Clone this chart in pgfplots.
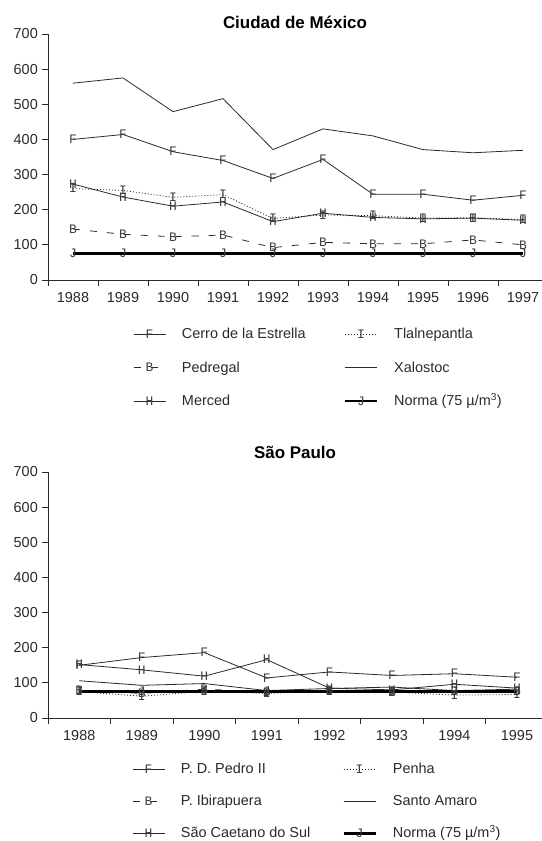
\documentclass[border=0pt]{standalone}
\usepackage{fontspec}
\setmainfont{Liberation Sans}
\setmonofont{Liberation Mono}
\usepackage{pgfplots}
\pgfplotsset{compat=1.18}
\definecolor{ln}{HTML}{2A2A2A}
\definecolor{mk}{HTML}{3C3C3C}

\pgfplotsset{
 mystyle/.style={
  scale only axis, width=494bp, height=246bp,
  axis x line=bottom, axis y line=left,
  axis line style={-, ln, line width=0.8bp},
  ymin=0, ymax=700, ytick={0,100,...,700},
  tick align=outside, major tick length=6bp,
  tick style={ln, line width=0.8bp},
  ticklabel style={font=\fontsize{14.5}{17}\selectfont, text=ln},
  /pgf/number format/assume math mode=true,
  yticklabel style={anchor=east, inner sep=0pt, xshift=-4bp},
  xticklabels={},
  extra x tick style={major tick length=0pt, xticklabel style={anchor=north, inner sep=0pt, yshift=-12bp}},
  title style={font=\bfseries\fontsize{17}{20}\selectfont, at={(0.5,1)}, anchor=base, yshift=8bp},
  legend columns=2,
  legend cell align=left,
  legend style={draw=none, fill=none, inner sep=0pt, anchor=north west,
    font=\fontsize{14.5}{17}\selectfont, text=ln,
    row sep=19.5bp,
    nodes={inner sep=0pt, text height=11bp, text depth=3bp},
    /tikz/every odd column/.append style={column sep=16bp},
    /tikz/every even column/.append style={column sep=38bp}},
  legend image code/.code={\draw[mark repeat=2,mark phase=2,##1] plot coordinates {(0bp,0.5bp) (16bp,0.5bp) (32bp,0.5bp)};},
  text mark as node=true,
  text mark style={font=\ttfamily\fontsize{13}{13}\selectfont, text=mk, inner sep=0pt, anchor=center, text height=, text depth=},
 },
 sF/.style={ln, line width=0.8bp, mark=text, text mark=F, mark options={solid}},
 sI/.style={ln, line width=0.8bp, dash pattern=on 1bp off 2bp, mark=text, text mark=I, mark options={solid}},
 sB/.style={ln, line width=0.8bp, dash pattern=on 7bp off 10bp, mark=text, text mark=B, mark options={solid}},
 sP/.style={ln, line width=0.8bp, mark=none},
 sH/.style={ln, line width=0.8bp, mark=text, text mark=H, mark options={solid}},
 sJ/.style={black, line width=2.6bp, mark=text, text mark=J, mark options={solid}},
}

\begin{document}
\begin{tikzpicture}[x=1bp,y=1bp]
\useasboundingbox (0,0) rectangle (542,841);
\begin{axis}[mystyle, at={(48bp,561bp)}, anchor=south west,
  title={Ciudad de México},
  title style={yshift=-8bp},
  xmin=-0.5, xmax=9.38,
  xtick={-0.5,0.5,...,8.5},
  extra x ticks={0,1,2,3,4,5,6,7,8,9},
  extra x tick labels={1988,1989,1990,1991,1992,1993,1994,1995,1996,1997},
  legend style={at={(axis description cs:0.172,-0.193)}},
]
\addplot[sF] coordinates {(0,400) (1,414) (2,365) (3,340) (4,289) (5,343) (6,244) (7,244) (8,227) (9,241)};
\addlegendentry{Cerro de la Estrella}
\addplot[sI] coordinates {(0,260) (1,255) (2,235) (3,243) (4,175) (5,185) (6,183) (7,176) (8,177) (9,172)};
\addlegendentry{Tlalnepantla}
\addplot[sB] coordinates {(0,145) (1,130) (2,123) (3,128) (4,92) (5,107) (6,103) (7,103) (8,114) (9,100)};
\addlegendentry{Pedregal}
\addplot[sP] coordinates {(0,560) (1,575) (2,479) (3,516) (4,371) (5,430) (6,410) (7,371) (8,362) (9,369)};
\addlegendentry{Xalostoc}
\addplot[sH] coordinates {(0,273) (1,236) (2,210) (3,222) (4,166) (5,190) (6,178) (7,174) (8,176) (9,170)};
\addlegendentry{Merced}
\addplot[sJ] coordinates {(0,75) (1,75) (2,75) (3,75) (4,75) (5,75) (6,75) (7,75) (8,75) (9,75)};
\addlegendentry{Norma (75 µ/m\textsuperscript{3})}
\end{axis}

\begin{axis}[mystyle, at={(48bp,123bp)}, anchor=south west,
  title={São Paulo},
  xmin=-0.5, xmax=7.4,
  xtick={-0.5,0.5,...,6.5},
  extra x ticks={0,1,2,3,4,5,6,7},
  extra x tick labels={1988,1989,1990,1991,1992,1993,1994,1995},
  legend style={at={(axis description cs:0.170,-0.181)}, row sep=18bp,
    /tikz/every even column/.append style={column sep=32bp},
    /tikz/column 3/.append style={column sep=9bp}},
]
\addplot[sF] coordinates {(0,150) (1,172) (2,186) (3,114) (4,131) (5,121) (6,126) (7,116)};
\addlegendentry{P. D. Pedro II}
\addplot[sI] coordinates {(0,75) (1,62) (2,76) (3,70) (4,77) (5,74) (6,65) (7,67)};
\addlegendentry{Penha}
\addplot[sB] coordinates {(0,78) (1,70) (2,82) (3,74) (4,78) (5,73) (6,75) (7,76)};
\addlegendentry{P. Ibirapuera}
\addplot[sP] coordinates {(0,106) (1,93) (2,98) (3,78) (4,84) (5,88) (6,78) (7,82)};
\addlegendentry{Santo Amaro}
\addplot[sH] coordinates {(0,152) (1,137) (2,119) (3,166) (4,85) (5,80) (6,96) (7,85)};
\addlegendentry{São Caetano do Sul}
\addplot[sJ] coordinates {(0,75) (1,75) (2,75) (3,75) (4,75) (5,75) (6,75) (7,75)};
\addlegendentry{Norma (75 µ/m\textsuperscript{3})}
\end{axis}
\end{tikzpicture}
\end{document}
